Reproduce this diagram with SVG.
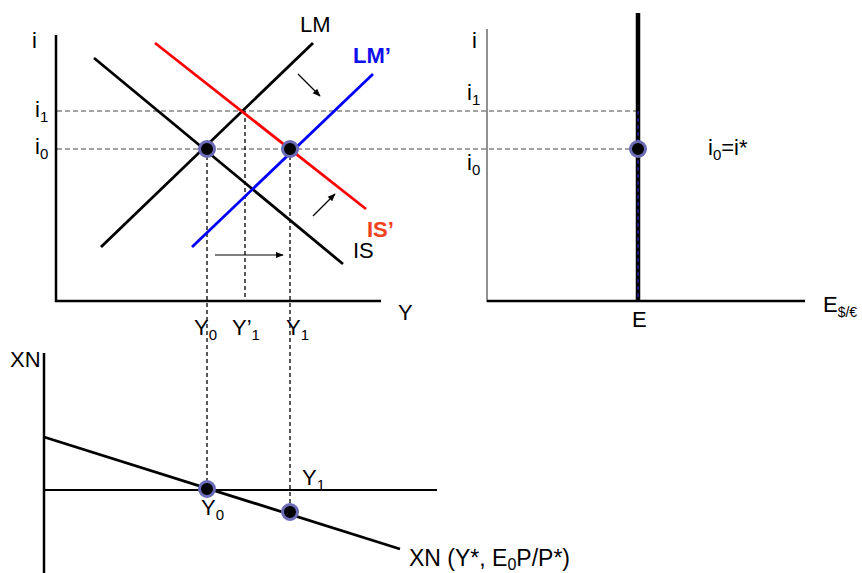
<svg xmlns="http://www.w3.org/2000/svg" width="862" height="573" viewBox="0 0 862 573">
<style>
text{font-family:"Liberation Sans",Arial,sans-serif;font-size:22px;fill:#000}
.sub{font-size:15px}
.axis{stroke:#000;stroke-width:2.5;fill:none}
.hd{stroke:#444;stroke-width:1;stroke-dasharray:5 3;fill:none}
.vd{stroke:#000;stroke-width:1.3;stroke-dasharray:4 3;fill:none}
.curve{stroke-width:2.8;fill:none}
.dot{fill:#000;stroke:#6b6bb8;stroke-width:3}
.arr{stroke:#000;stroke-width:1.2;fill:none;marker-end:url(#ah)}
</style>
<defs>
<marker id="ah" viewBox="0 0 10 10" refX="9" refY="5" markerWidth="8" markerHeight="8" markerUnits="userSpaceOnUse" orient="auto">
<path d="M0,1 L10,5 L0,9 z" fill="#000"/>
</marker>
</defs>
<rect width="862" height="573" fill="#fff"/>

<g id="connectors">
<line class="hd" x1="57" y1="111" x2="637" y2="111"/>
<line class="hd" x1="57" y1="149" x2="637" y2="149"/>
<line class="vd" x1="207" y1="149" x2="207" y2="489"/>
<line class="vd" x1="245" y1="111" x2="245" y2="300"/>
<line class="vd" x1="290" y1="149" x2="290" y2="512"/>
<line class="arr" x1="298" y1="74" x2="320" y2="96"/>
<line class="arr" x1="313" y1="216" x2="335" y2="194"/>
<line class="arr" x1="215" y1="255" x2="283" y2="255"/>
</g>

<g id="islm-panel">
<line class="axis" x1="56" y1="35" x2="56" y2="302"/>
<line class="axis" x1="55" y1="301" x2="381" y2="301"/>
<line class="curve" stroke="#000" x1="101" y1="247" x2="313" y2="43"/>
<line class="curve" stroke="#000" x1="94" y1="58" x2="343" y2="264"/>
<line class="curve" stroke="#f00" x1="155" y1="43" x2="366" y2="209"/>
<line class="curve" stroke="#0000ff" x1="192" y1="247" x2="373" y2="74"/>
<text x="32" y="48">i</text>
<text x="35" y="117">i<tspan class="sub" dy="5">1</tspan></text>
<text x="35" y="154">i<tspan class="sub" dy="5">0</tspan></text>
<text x="300" y="32">LM</text>
<text x="353" y="63" style="fill:#1010ee;font-weight:bold">LM’</text>
<text x="367" y="237" style="fill:#f0401e;font-weight:bold">IS’</text>
<text x="353" y="258">IS</text>
<text x="398" y="320">Y</text>
<text x="194" y="335">Y<tspan class="sub" dy="5">0</tspan></text>
<text x="232" y="335">Y’<tspan class="sub" dy="5">1</tspan></text>
<text x="286" y="335">Y<tspan class="sub" dy="5">1</tspan></text>
</g>

<g id="fx-panel">
<line x1="487" y1="29" x2="487" y2="302" stroke="#555" stroke-width="1.3"/>
<line class="axis" x1="487" y1="301" x2="805" y2="301"/>
<line x1="638" y1="13" x2="638" y2="301" stroke="#000" stroke-width="4.5"/>
<line x1="638" y1="111" x2="638" y2="299" stroke="#3333dd" stroke-width="1" stroke-dasharray="4 3"/>
<text x="472" y="48">i</text>
<text x="467" y="100">i<tspan class="sub" dy="5">1</tspan></text>
<text x="467" y="170">i<tspan class="sub" dy="5">0</tspan></text>
<text x="708" y="155">i<tspan class="sub" dy="5">0</tspan><tspan dy="-5">=i*</tspan></text>
<text x="823" y="312">E<tspan class="sub" dy="5" style="font-size:14px">$/€</tspan></text>
<text x="632" y="327">E</text>
</g>

<g id="xn-panel">
<line class="axis" x1="44" y1="353" x2="44" y2="573"/>
<line stroke="#000" stroke-width="2" x1="44" y1="490" x2="437" y2="490"/>
<line class="curve" stroke="#000" x1="44" y1="437" x2="400" y2="549"/>
<text x="10" y="367">XN</text>
<text x="302" y="485">Y<tspan class="sub" dy="5">1</tspan></text>
<text x="201" y="515">Y<tspan class="sub" dy="5">0</tspan></text>
<text x="409" y="566" style="font-size:23px">XN (Y*, E<tspan class="sub" dy="4" style="font-size:16px">0</tspan><tspan dy="-4">P/P*)</tspan></text>
</g>

<g id="points">
<circle class="dot" cx="207" cy="149" r="7.5"/>
<circle class="dot" cx="290" cy="149" r="7.5"/>
<circle class="dot" cx="638" cy="149" r="7.5"/>
<circle class="dot" cx="207" cy="489" r="7.5"/>
<circle class="dot" cx="290" cy="512" r="7.5"/>
</g>
</svg>
